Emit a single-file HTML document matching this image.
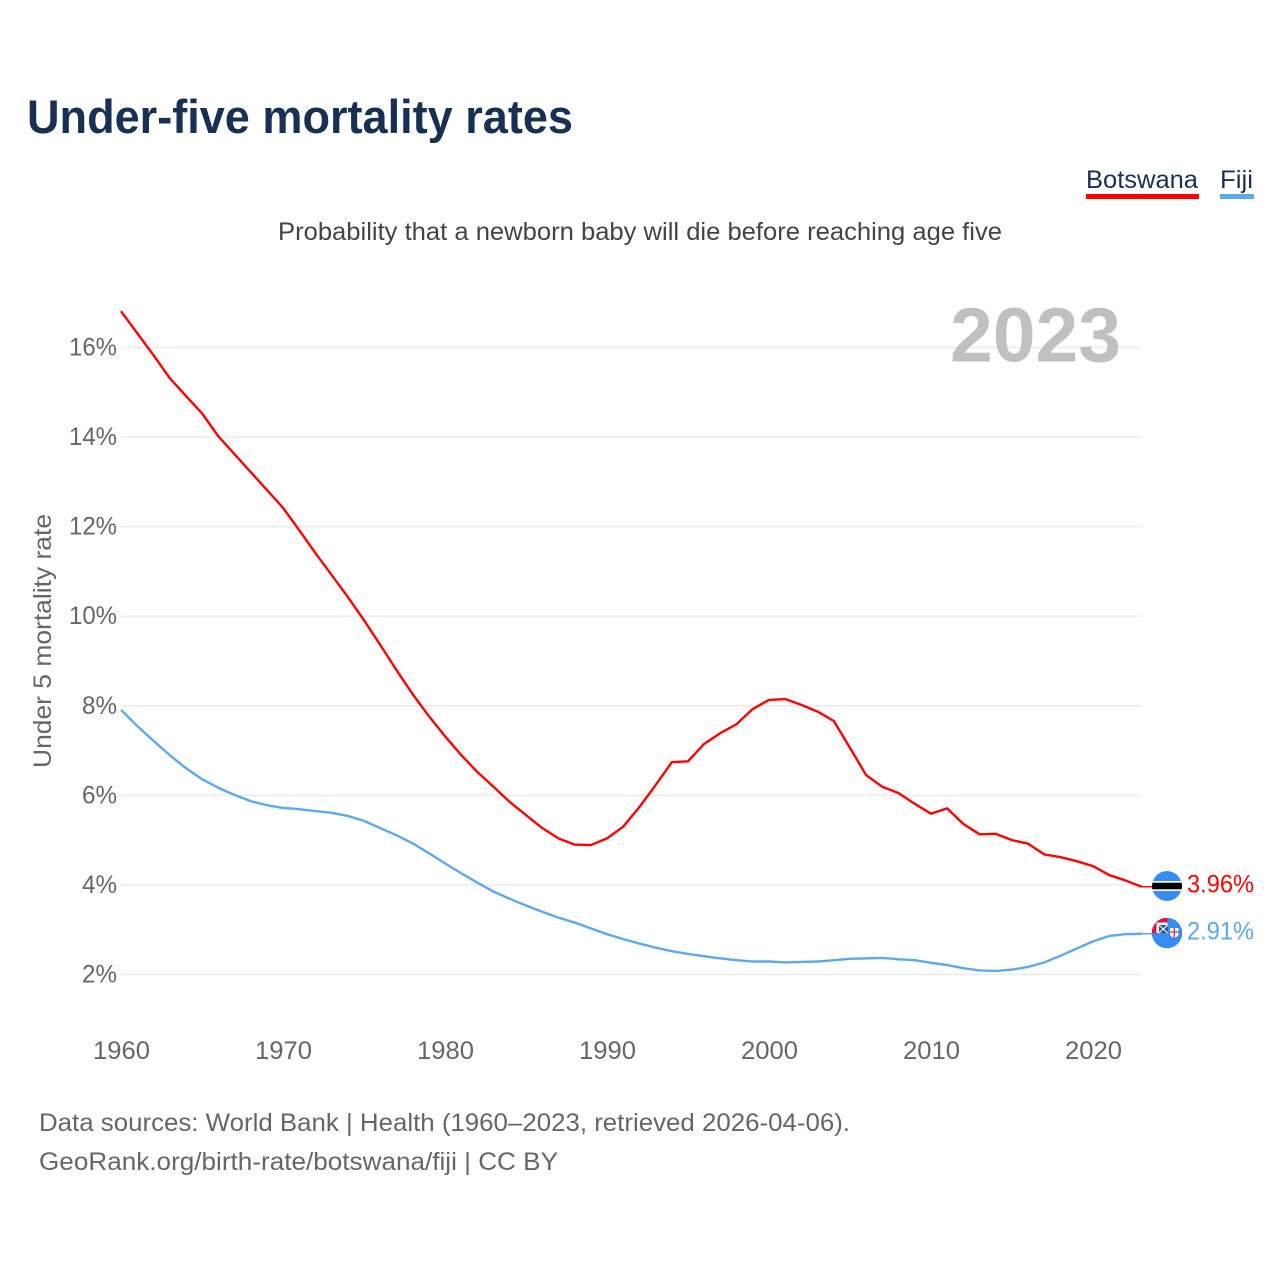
<!DOCTYPE html>
<html lang="en">
<head>
<meta charset="utf-8">
<title>Under-five mortality rates</title>
<style>
html,body{margin:0;padding:0;background:#fff}
svg{display:block}
text{font-family:"Liberation Sans",sans-serif}
</style>
</head>
<body>
<svg id="chart" xmlns="http://www.w3.org/2000/svg" width="1280" height="1280" viewBox="0 0 1280 1280">
<rect width="1280" height="1280" fill="#fff"/>
<text x="27" y="133" font-size="47" font-weight="700" fill="#183152" textLength="546" lengthAdjust="spacingAndGlyphs">Under-five mortality rates</text>
<text x="640" y="240" font-size="25" fill="#444" text-anchor="middle" textLength="724" lengthAdjust="spacingAndGlyphs">Probability that a newborn baby will die before reaching age five</text>

<g>
<text x="1086" y="188" font-size="25" fill="#183152" textLength="112" lengthAdjust="spacingAndGlyphs">Botswana</text>
<rect x="1086" y="194" width="113" height="5" fill="#ff0000"/>
<text x="1220" y="188" font-size="25" fill="#183152" textLength="33" lengthAdjust="spacingAndGlyphs">Fiji</text>
<rect x="1220" y="194" width="34" height="5" fill="#5ea8ef"/>
</g>

<g id="grid"></g>
<text x="950" y="361.5" font-size="77" font-weight="700" fill="#c0c0c0" textLength="171" lengthAdjust="spacingAndGlyphs">2023</text>
<g id="yticks"></g>
<g id="xticks"></g>
<text transform="translate(51,641) rotate(-90)" font-size="25" fill="#666" text-anchor="middle" textLength="254" lengthAdjust="spacingAndGlyphs">Under 5 mortality rate</text>

<path id="line-botswana" fill="none" stroke="#ff0000" stroke-width="2.4" stroke-linejoin="round"/>
<path id="line-fiji" fill="none" stroke="#5ea8ef" stroke-width="2.4" stroke-linejoin="round"/>
<path id="lead-botswana" fill="none" stroke="#ff0000" stroke-width="1.5"/>
<path id="lead-fiji" fill="none" stroke="#5ea8ef" stroke-width="1.5"/>

<defs>
<clipPath id="clip-bw"><circle cx="0" cy="0" r="15"/></clipPath>
<clipPath id="clip-fj"><circle cx="0" cy="0" r="15.3"/></clipPath>
</defs>

<g id="flag-botswana" clip-path="url(#clip-bw)">
<circle r="15" fill="#358df0"/>
<rect x="-15" y="-5" width="30" height="10" fill="#fff"/>
<rect x="-15" y="-3.3" width="30" height="6.6" fill="#000"/>
</g>
<g id="flag-fiji" clip-path="url(#clip-fj)">
<circle r="15.3" fill="#358df0"/>
<rect x="-15.3" y="-15.3" width="15.8" height="15.3" fill="#e3153c"/>
<rect x="-10.5" y="-10.5" width="11" height="10.5" fill="#fff"/>
<rect x="-8" y="-8" width="8.5" height="8" fill="#1f4d9c"/>
<path d="M-8,-8 L0.5,0 M0.5,-8 L-8,0" stroke="#fff" stroke-width="1.1"/>
<path d="M3,-5 L11.5,-5 L11.5,1 Q11.5,3.5 7.2,5 Q3,3.5 3,1 Z" fill="#fff"/>
<path d="M7.2,-5 L7.2,5 M3,-1 L11.5,-1" stroke="#e3153c" stroke-width="1.2"/>
</g>

<text id="value-botswana" x="1187" font-size="25" fill="#ff0000" textLength="67" lengthAdjust="spacingAndGlyphs"></text>
<text id="value-fiji" x="1187" font-size="25" fill="#5ea8ef" textLength="67" lengthAdjust="spacingAndGlyphs"></text>

<text x="39" y="1131" font-size="25" fill="#666" textLength="811" lengthAdjust="spacingAndGlyphs">Data sources: World Bank | Health (1960–2023, retrieved 2026-04-06).</text>
<text x="39" y="1170" font-size="25" fill="#666" textLength="519" lengthAdjust="spacingAndGlyphs">GeoRank.org/birth-rate/botswana/fiji | CC BY</text>
</svg>

<script>
const firstYear = 1960;
const botswana = [16.81,16.32,15.83,15.32,14.92,14.53,14.02,13.62,13.22,12.82,
12.42,11.92,11.41,10.92,10.43,9.91,9.36,8.80,8.26,7.77,
7.32,6.90,6.52,6.19,5.85,5.56,5.27,5.04,4.90,4.89,
5.04,5.30,5.74,6.23,6.74,6.76,7.15,7.39,7.59,7.93,
8.13,8.15,8.02,7.87,7.66,7.06,6.45,6.19,6.05,5.81,
5.59,5.71,5.36,5.13,5.14,5.00,4.92,4.68,4.62,4.53,
4.42,4.22,4.10,3.96];
const fiji = [7.91,7.55,7.22,6.90,6.61,6.36,6.17,6.01,5.87,5.78,
5.72,5.69,5.65,5.61,5.54,5.43,5.27,5.11,4.93,4.71,
4.48,4.26,4.05,3.85,3.69,3.54,3.40,3.27,3.16,3.03,
2.90,2.79,2.69,2.60,2.52,2.46,2.41,2.36,2.32,2.29,
2.29,2.27,2.28,2.29,2.32,2.35,2.36,2.37,2.34,2.32,
2.26,2.21,2.14,2.09,2.08,2.11,2.17,2.27,2.42,2.58,
2.74,2.86,2.90,2.91];
const yTickValues = [2,4,6,8,10,12,14,16];
const xTickValues = [1960,1970,1980,1990,2000,2010,2020];

const NS = 'http://www.w3.org/2000/svg';
function xScale(year){ return 121 + (year - 1960) * 16.2; }
function yScale(v){ return 974.5 - (v - 2) * 44.79; }
function linePath(series){
  return series.map(function(v,i){
    return (i ? 'L' : 'M') + xScale(firstYear + i).toFixed(2) + ',' + yScale(v).toFixed(2);
  }).join(' ');
}
function make(tag, attrs, text){
  const el = document.createElementNS(NS, tag);
  Object.keys(attrs).forEach(function(k){ el.setAttribute(k, attrs[k]); });
  if (text !== undefined) el.textContent = text;
  return el;
}

const grid = document.getElementById('grid');
const yticks = document.getElementById('yticks');
const xticks = document.getElementById('xticks');

yTickValues.forEach(function(v){
  const line = make('line', {x1:121, x2:1141.5, y1:yScale(v), y2:yScale(v), stroke:'#ebebeb', 'stroke-width':1.5});
  
  
  grid.appendChild(line);
  const label = v + '%';
  const w = label.length === 3 ? 48 : 35;
  const t = make('text', {x:117 - w, y:yScale(v) + 8, 'font-size':25, fill:'#666', textLength:w, lengthAdjust:'spacingAndGlyphs'}, label);
  
  
  yticks.appendChild(t);
});

xTickValues.forEach(function(y){
  const t = make('text', {x:xScale(y) - 28, y:1059, 'font-size':25, fill:'#666', textLength:57, lengthAdjust:'spacingAndGlyphs'}, String(y));
  
  
  xticks.appendChild(t);
});

document.getElementById('line-botswana').setAttribute('d', linePath(botswana));
document.getElementById('line-fiji').setAttribute('d', linePath(fiji));

const lastX = xScale(firstYear + botswana.length - 1);
const lastB = botswana[botswana.length - 1];
const lastF = fiji[fiji.length - 1];
document.getElementById('lead-botswana').setAttribute('d', 'M' + lastX + ',' + yScale(lastB) + ' L1152,' + yScale(lastB));
document.getElementById('lead-fiji').setAttribute('d', 'M' + lastX + ',' + yScale(lastF) + ' L1152,' + yScale(lastF));
document.getElementById('flag-botswana').setAttribute('transform', 'translate(1167,' + (yScale(lastB) - 0.7) + ')');
document.getElementById('flag-fiji').setAttribute('transform', 'translate(1167,' + (yScale(lastF) - 0.7) + ')');
const vb = document.getElementById('value-botswana');
vb.setAttribute('y', yScale(lastB) + 6);
vb.textContent = lastB.toFixed(2) + '%';
const vf = document.getElementById('value-fiji');
vf.setAttribute('y', yScale(lastF) + 6);
vf.textContent = lastF.toFixed(2) + '%';
</script>
</body>
</html>
